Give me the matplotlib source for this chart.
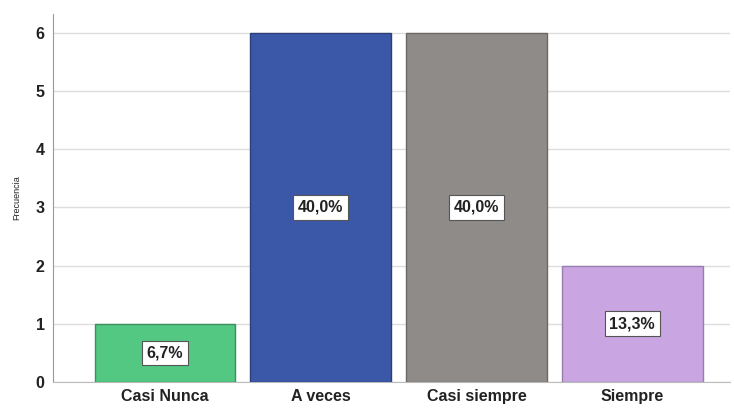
import matplotlib
matplotlib.use("Agg")
import matplotlib.pyplot as plt

categories = ["Casi Nunca", "A veces", "Casi siempre", "Siempre"]
frecuencias = [1, 6, 6, 2]
porcentajes = ["6,7%", "40,0%", "40,0%", "13,3%"]
colores = ["#52c882", "#3b57a8", "#8e8b88", "#c9a6e2"]
bordes = ["#3d8f5e", "#2c3f78", "#6b6865", "#9a7cae"]
y_ticks = [0, 1, 2, 3, 4, 5, 6]

plt.rcParams["font.family"] = ["Liberation Sans", "DejaVu Sans"]

fig = plt.figure(figsize=(7.34, 4.09), dpi=100)
ax = fig.add_axes([0.072, 0.066, 0.923, 0.9])

x = range(len(categories))
ax.bar(x, frecuencias, width=0.905, color=colores, edgecolor=bordes,
       linewidth=1.0, zorder=3)

for xi, h, lab in zip(x, frecuencias, porcentajes):
    ax.text(xi, h / 2, lab, ha="center", va="center", fontsize=11.5,
            fontweight="bold", color="#222222", zorder=4,
            bbox=dict(boxstyle="square,pad=0.3", facecolor="white",
                      edgecolor="#555555", linewidth=0.8))

ax.set_xlim(-0.72, 3.63)
ax.set_ylim(0, 6.32)
ax.set_yticks(y_ticks)
ax.set_xticks(list(x))
ax.set_xticklabels(categories, fontsize=11.5, fontweight="bold", color="#222222")
ax.set_yticklabels([str(t) for t in y_ticks], fontsize=11.5, fontweight="bold",
                   color="#222222")
ax.tick_params(axis="both", length=0, pad=6)
ax.tick_params(axis="x", pad=5)
ax.set_ylabel("Frecuencia", fontsize=6.5, color="#222222", labelpad=10)

ax.grid(axis="y", color="#dddddd", linewidth=1.0, zorder=0)
for side in ["top", "right"]:
    ax.spines[side].set_visible(False)
ax.spines["left"].set_color("#999999")
ax.spines["bottom"].set_color("#bbbbbb")

fig.savefig("out.png", dpi=100)
